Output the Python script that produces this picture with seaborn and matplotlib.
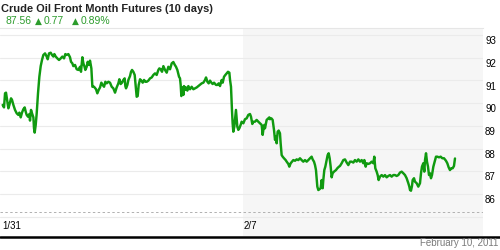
import matplotlib
matplotlib.use("Agg")
import matplotlib.pyplot as plt
import matplotlib.transforms as mtransforms
from matplotlib.lines import Line2D
import seaborn as sns
import pandas as pd

# ---- data (days since 1/31, price) ----
days_w1 = [0.014, 0.042, 0.063, 0.083, 0.111, 0.132, 0.153, 0.187, 0.208, 0.236,
           0.270, 0.305, 0.339, 0.360, 0.388, 0.415, 0.443, 0.471, 0.492, 0.512,
           0.540, 0.568, 0.581, 0.602, 0.623, 0.651, 0.664, 0.678, 0.699, 0.720,
           0.747, 0.775, 0.803, 0.830, 0.858, 0.893, 0.927, 0.948, 0.976, 1.010,
           1.038, 1.066, 1.086, 1.114, 1.148, 1.183, 1.218, 1.252, 1.287, 1.314,
           1.342, 1.377, 1.411, 1.432, 1.460, 1.480, 1.515, 1.550, 1.584, 1.619,
           1.639, 1.667, 1.688, 1.709, 1.729, 1.757, 1.778, 1.805, 1.826, 1.854,
           1.875, 1.909, 1.951, 1.978, 2.006, 2.034, 2.061, 2.089, 2.117, 2.144,
           2.172, 2.207, 2.241, 2.276, 2.310, 2.345, 2.379, 2.414, 2.435, 2.462,
           2.490, 2.518, 2.545, 2.559, 2.573, 2.601, 2.622, 2.656, 2.677, 2.698,
           2.725, 2.753, 2.774, 2.794, 2.815, 2.836, 2.864, 2.891, 2.919, 2.947,
           2.974, 3.002, 3.036, 3.071, 3.106, 3.140, 3.175, 3.209, 3.244, 3.265,
           3.292, 3.320, 3.348, 3.382, 3.417, 3.451, 3.486, 3.521, 3.555, 3.583,
           3.610, 3.638, 3.673, 3.693, 3.707, 3.721, 3.742, 3.763, 3.776, 3.804,
           3.818, 3.846, 3.866, 3.901, 3.935, 3.970, 4.005, 4.039, 4.074, 4.108,
           4.143, 4.178, 4.212, 4.233, 4.261, 4.288, 4.316, 4.344, 4.371, 4.399,
           4.440, 4.468, 4.496, 4.523, 4.558, 4.579, 4.606, 4.634, 4.662, 4.689,
           4.717, 4.731]
price_w1 = [89.92, 89.81, 90.43, 90.46, 90.06, 89.77, 89.92, 90.21, 90.14, 89.92,
            89.70, 89.55, 89.48, 89.58, 89.37, 89.58, 89.73, 89.81, 89.62, 89.48,
            89.40, 89.52, 89.23, 89.70, 89.55, 89.37, 88.89, 88.70, 89.03, 89.55,
            90.43, 91.16, 91.63, 91.90, 92.12, 92.19, 92.05, 91.93, 92.19, 92.22,
            92.12, 92.05, 92.16, 92.05, 91.97, 91.90, 91.97, 92.05, 91.97, 92.16,
            92.12, 92.16, 92.02, 91.82, 91.75, 91.63, 91.68, 91.49, 91.46, 91.60,
            91.38, 92.02, 91.75, 91.63, 91.46, 91.60, 91.82, 91.68, 91.87, 91.53,
            90.72, 90.72, 90.61, 90.43, 90.58, 90.69, 90.90, 90.80, 90.72, 90.94,
            90.87, 90.94, 90.90, 90.72, 90.65, 90.46, 90.69, 90.87, 91.05, 90.84,
            90.90, 91.02, 91.09, 90.75, 90.65, 90.80, 91.02, 91.19, 91.38, 91.46,
            91.38, 91.24, 90.72, 90.28, 90.31, 90.80, 91.05, 90.99, 90.90, 91.02,
            90.94, 90.94, 90.99, 91.09, 91.13, 91.24, 91.31, 91.24, 91.46, 91.53,
            91.49, 91.38, 91.63, 91.46, 91.34, 91.60, 91.49, 91.75, 91.81, 91.69,
            91.60, 91.46, 91.16, 91.09, 90.80, 90.31, 90.69, 90.36, 90.75, 90.58,
            90.69, 90.55, 90.75, 90.61, 90.72, 90.61, 90.65, 90.69, 90.75, 90.81,
            90.87, 90.90, 91.02, 91.13, 90.94, 90.87, 90.99, 90.90, 90.84, 90.90,
            90.80, 90.80, 90.87, 90.75, 91.02, 90.90, 91.16, 91.24, 91.31, 91.38,
            91.34, 91.02]

days_w2 = [4.751, 4.771, 4.785, 4.799, 4.820, 4.841, 4.854, 4.868, 4.882, 4.903,
           4.924, 4.951, 4.972, 5.007, 5.041, 5.076, 5.110, 5.145, 5.166, 5.193,
           5.214, 5.249, 5.283, 5.318, 5.352, 5.387, 5.408, 5.422, 5.442, 5.456,
           5.491, 5.525, 5.546, 5.560, 5.588, 5.615, 5.643, 5.664, 5.684, 5.698,
           5.719, 5.740, 5.767, 5.781, 5.802, 5.823, 5.850, 5.885, 5.906, 5.940,
           5.961, 5.989, 6.016, 6.044, 6.079, 6.113, 6.148, 6.182, 6.217, 6.251,
           6.286, 6.321, 6.355, 6.390, 6.424, 6.445, 6.473, 6.494, 6.514, 6.528,
           6.542, 6.563, 6.583, 6.611, 6.632, 6.653, 6.666, 6.687, 6.708, 6.736,
           6.756, 6.777, 6.798, 6.819, 6.839, 6.860, 6.888, 6.929, 6.957, 6.991,
           7.012, 7.047, 7.081, 7.116, 7.151, 7.185, 7.220, 7.254, 7.289, 7.323,
           7.358, 7.393, 7.427, 7.462, 7.496, 7.517, 7.545, 7.565, 7.600, 7.635,
           7.669, 7.704, 7.724, 7.745, 7.773, 7.794, 7.814, 7.842, 7.877, 7.911,
           7.946, 7.980, 8.015, 8.050, 8.084, 8.119, 8.153, 8.188, 8.222, 8.257,
           8.292, 8.326, 8.361, 8.395, 8.430, 8.451, 8.465, 8.485, 8.506, 8.520,
           8.548, 8.568, 8.603, 8.637, 8.672, 8.693, 8.713, 8.741, 8.762, 8.776,
           8.797, 8.817, 8.838, 8.859, 8.879, 8.900, 8.921, 8.949, 8.976, 9.004,
           9.032, 9.066, 9.101, 9.135, 9.170, 9.211, 9.239, 9.267, 9.294, 9.322,
           9.350, 9.377, 9.398]
price_w2 = [90.72, 89.70, 89.11, 88.74, 88.96, 89.40, 89.70, 89.33, 88.96, 88.82,
            88.89, 89.04, 89.18, 89.11, 89.29, 89.33, 89.48, 89.52, 89.40, 89.08,
            89.18, 89.18, 89.26, 89.18, 89.11, 89.04, 88.60, 88.82, 89.04, 88.89,
            89.26, 89.33, 89.37, 89.29, 89.33, 89.26, 88.82, 88.38, 88.52, 88.23,
            88.74, 88.79, 88.67, 88.23, 87.71, 87.64, 87.57, 87.49, 87.42, 87.32,
            87.20, 87.35, 87.42, 87.49, 87.46, 87.52, 87.49, 87.57, 87.49, 87.42,
            87.49, 87.42, 87.49, 87.57, 87.64, 87.52, 87.42, 87.27, 87.05, 86.69,
            86.32, 86.17, 86.20, 86.25, 86.61, 86.25, 86.61, 87.05, 87.20, 87.49,
            87.71, 87.79, 87.57, 87.20, 86.73, 86.91, 86.98, 87.05, 87.13, 87.20,
            87.23, 87.35, 87.49, 87.52, 87.38, 87.27, 87.42, 87.42, 87.38, 87.49,
            87.42, 87.52, 87.42, 87.49, 87.35, 87.49, 87.20, 87.35, 87.32, 87.35,
            87.42, 87.35, 87.64, 87.13, 86.98, 86.83, 86.61, 86.76, 86.83, 86.76,
            86.83, 86.73, 86.79, 86.83, 86.76, 86.83, 86.83, 86.79, 86.83, 86.94,
            86.98, 86.91, 86.83, 86.69, 86.47, 86.32, 86.17, 86.14, 86.35, 86.61,
            86.69, 86.54, 86.47, 86.32, 86.47, 86.91, 87.20, 87.35, 86.98, 87.49,
            87.79, 87.42, 87.20, 86.83, 86.91, 86.69, 86.83, 87.20, 87.42, 87.64,
            87.64, 87.61, 87.64, 87.57, 87.57, 87.46, 87.35, 87.17, 87.05, 87.13,
            87.13, 87.23, 87.56]

x_tick_days = [0, 5]
x_tick_labels = ["1/31", "2/7"]
y_ticks = [85, 86, 87, 88, 89, 90, 91, 92, 93]
y_tick_labels = ["", "86", "87", "88", "89", "90", "91", "92", "93"]

title = "Crude Oil Front Month Futures (10 days)"
last_price = "87.56"
change = "0.77"
change_pct = "0.89%"
date_label = "February 10, 2011"

# ---- styling ----
sns.set_style("white")
plt.rcParams["font.family"] = ["Liberation Sans", "DejaVu Sans"]

LINE_GREEN = "#109a10"
TEXT_GREEN = "#2c9c2c"

df = pd.DataFrame({"day": days_w1 + days_w2, "price": price_w1 + price_w2})

W, H = 500, 250
fig = plt.figure(figsize=(5, 2.5), dpi=100)
fig.patch.set_facecolor("white")

ax_top_px, ax_bot_px, ax_right_px = 28, 236, 483
ax = fig.add_axes([0, (H - ax_bot_px) / H, ax_right_px / W, (ax_bot_px - ax_top_px) / H])
ax.set_facecolor("white")

px_per_unit = 22.7
px_per_day = 48.2
ax.set_ylim(93 - (ax_bot_px - 35) / px_per_unit, 93 + (35 - ax_top_px) / px_per_unit)
ax.set_xlim(-2 / px_per_day, (ax_right_px - 2) / px_per_day)

# shaded current week
ax.axvspan(5, (ax_right_px - 2) / px_per_day, color="#f6f6f6", zorder=0, lw=0)

# gridlines
for v in y_ticks:
    ax.axhline(v, color="#ebebeb", lw=0.8, zorder=1)
ax.axhline(85.2, color="#b0b0b0", lw=0.7, ls=(0, (2.5, 2.5)), zorder=1)

sns.lineplot(data=df, x="day", y="price", ax=ax, color=LINE_GREEN,
             linewidth=1.75, zorder=3, estimator=None, sort=False)

ax.set_xlabel("")
ax.set_ylabel("")
ax.set_xticks([])
ax.set_yticks([])
for s in ["left", "right", "bottom"]:
    ax.spines[s].set_visible(False)
ax.spines["top"].set_color("#e6e6e6")
ax.spines["top"].set_linewidth(0.8)

# x tick labels (inside chart strip)
for d, lab in zip(x_tick_days, x_tick_labels):
    ax.text(d + 0.01, 84.6, lab, ha="left", va="center", fontsize=7, color="black")

# y tick labels on the right, just below each gridline
trans = mtransforms.blended_transform_factory(fig.transFigure, ax.transData)
for v, lab in zip(y_ticks, y_tick_labels):
    if lab:
        fig.text(485 / W, v - 0.27, lab, ha="left", va="center", fontsize=7,
                 color="black", transform=trans)

# title & quote line
fig.text(1 / W, 1 - 9 / H, title, ha="left", va="center", fontsize=7.9,
         fontweight="bold", color="#222222")
fig.text(5 / W, 1 - 21.5 / H, last_price, ha="left", va="center", fontsize=7.5,
         color=TEXT_GREEN)
fig.text(34.5 / W, 1 - 21 / H, "\u25b2", ha="left", va="center", fontsize=6.5,
         color=TEXT_GREEN, family=["DejaVu Sans"])
fig.text(44 / W, 1 - 21.5 / H, change, ha="left", va="center", fontsize=7.5,
         color=TEXT_GREEN)
fig.text(71.5 / W, 1 - 21 / H, "\u25b2", ha="left", va="center", fontsize=6.5,
         color=TEXT_GREEN, family=["DejaVu Sans"])
fig.text(81 / W, 1 - 21.5 / H, change_pct, ha="left", va="center", fontsize=7.5,
         color=TEXT_GREEN)

# bottom black rule and date
fig.add_artist(Line2D([0, 1], [(H - 236.5) / H] * 2, color="black", lw=1.8,
                      transform=fig.transFigure))
fig.text(498 / W, 1 - 243.5 / H, date_label, ha="right", va="center", fontsize=7,
         color="#7a7a7a")

fig.savefig("out.png", dpi=100, facecolor="white")
